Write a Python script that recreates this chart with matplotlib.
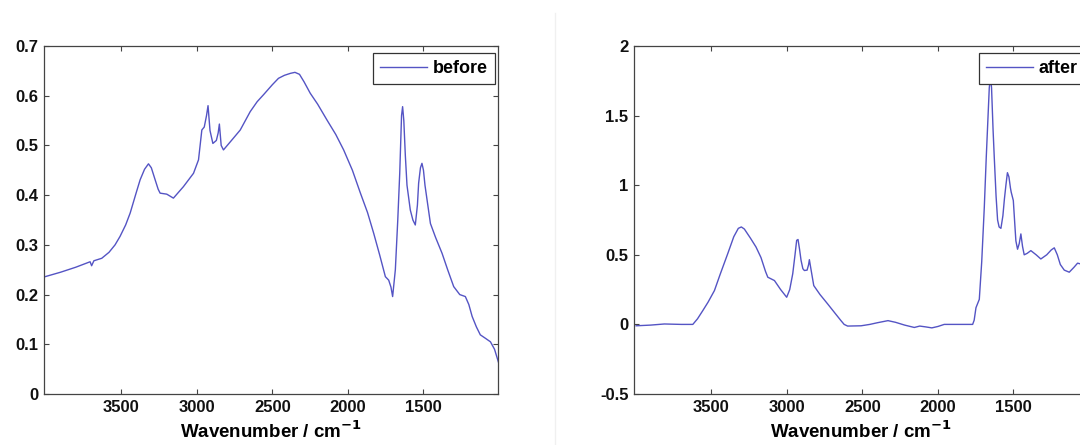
import numpy as np
import matplotlib.pyplot as plt
from matplotlib.lines import Line2D

plt.rcParams['font.family'] = ['Liberation Sans', 'DejaVu Sans']
plt.rcParams['font.weight'] = 'bold'

# FTIR spectra (wavenumber in cm-1, absorbance)
wn_before = [4003, 3900, 3800, 3705, 3695, 3680, 3628, 3580, 3540, 3507, 3470, 3440, 3400,
             3374, 3345, 3319, 3300, 3275, 3255, 3242, 3198, 3154, 3088, 3021, 2988, 2966,
             2950, 2935, 2925, 2912, 2893, 2870, 2858, 2850, 2838, 2823, 2770, 2712, 2646,
             2600, 2558, 2500, 2459, 2420, 2380, 2350, 2320, 2290, 2249, 2200, 2138, 2080,
             2028, 1970, 1917, 1870, 1829, 1790, 1752, 1730, 1715, 1704, 1686, 1670, 1657,
             1645, 1638, 1630, 1620, 1609, 1587, 1570, 1554, 1540, 1532, 1520, 1510, 1500,
             1490, 1476, 1454, 1420, 1377, 1340, 1300, 1260, 1223, 1200, 1178, 1150, 1124,
             1090, 1057, 1030, 1002]
ab_before = [0.236, 0.245, 0.255, 0.266, 0.258, 0.268, 0.273, 0.285, 0.300, 0.317, 0.340, 0.364, 0.405,
             0.431, 0.452, 0.463, 0.455, 0.431, 0.412, 0.404, 0.402, 0.394, 0.417, 0.444, 0.471, 0.531,
             0.537, 0.560, 0.580, 0.530, 0.504, 0.510, 0.525, 0.543, 0.500, 0.491, 0.510, 0.531, 0.568,
             0.588, 0.602, 0.622, 0.635, 0.641, 0.645, 0.647, 0.643, 0.628, 0.605, 0.583, 0.551, 0.522,
             0.491, 0.450, 0.404, 0.365, 0.323, 0.280, 0.236, 0.229, 0.215, 0.196, 0.250, 0.350, 0.444,
             0.560, 0.578, 0.550, 0.480, 0.420, 0.370, 0.350, 0.340, 0.380, 0.424, 0.455, 0.464, 0.450,
             0.420, 0.390, 0.343, 0.315, 0.283, 0.250, 0.216, 0.200, 0.196, 0.180, 0.156, 0.135, 0.119,
             0.112, 0.105, 0.090, 0.062]

wn_after = [3996, 3900, 3809, 3698, 3621, 3590, 3555, 3520, 3478, 3440, 3390, 3350, 3320,
            3300, 3280, 3240, 3203, 3170, 3140, 3125, 3081, 3040, 3000, 2980, 2960, 2945,
            2934, 2925, 2915, 2905, 2893, 2883, 2865, 2855, 2850, 2840, 2821, 2780, 2729,
            2680, 2641, 2620, 2597, 2508, 2450, 2400, 2330, 2280, 2220, 2156, 2120, 2080,
            2040, 2000, 1958, 1850, 1770, 1760, 1748, 1726, 1710, 1693, 1680, 1670, 1660,
            1652, 1645, 1635, 1627, 1615, 1605, 1595, 1583, 1570, 1560, 1550, 1540, 1530,
            1520, 1515, 1501, 1490, 1484, 1473, 1462, 1451, 1440, 1429, 1410, 1385, 1350,
            1319, 1280, 1250, 1230, 1210, 1190, 1164, 1131, 1100, 1076, 1040, 1005]
ab_after = [-0.010, -0.005, 0.003, 0.000, 0.000, 0.040, 0.099, 0.160, 0.243, 0.360, 0.508, 0.630, 0.690,
            0.700, 0.685, 0.620, 0.556, 0.480, 0.380, 0.339, 0.315, 0.250, 0.195, 0.250, 0.364, 0.500,
            0.604, 0.610, 0.540, 0.460, 0.400, 0.387, 0.390, 0.430, 0.465, 0.400, 0.279, 0.215, 0.147,
            0.080, 0.027, 0.000, -0.012, -0.010, 0.000, 0.012, 0.027, 0.015, -0.005, -0.022, -0.012, -0.018,
            -0.025, -0.015, 0.000, 0.000, 0.000, 0.030, 0.120, 0.180, 0.450, 0.840, 1.200, 1.450, 1.700,
            1.780, 1.700, 1.400, 1.200, 0.920, 0.750, 0.700, 0.690, 0.780, 0.900, 1.000, 1.090, 1.060,
            0.980, 0.950, 0.890, 0.700, 0.600, 0.540, 0.580, 0.650, 0.560, 0.500, 0.510, 0.530, 0.500,
            0.470, 0.500, 0.535, 0.550, 0.500, 0.430, 0.390, 0.375, 0.410, 0.440, 0.430, 0.400]

line_color = '#5454c4'
spine_color = '#444444'

fig = plt.figure(figsize=(10.8, 4.45), dpi=100)
W, H = 1080, 445

ax1 = fig.add_axes([44 / W, (H - 394) / H, 454 / W, 348 / H])
ax2 = fig.add_axes([634 / W, (H - 394) / H, 454 / W, 348 / H])

panels = [
    (ax1, wn_before, ab_before, 'before', (0, 0.7), np.arange(0, 0.71, 0.1), ['0', '0.1', '0.2', '0.3', '0.4', '0.5', '0.6', '0.7']),
    (ax2, wn_after, ab_after, 'after', (-0.5, 2), np.arange(-0.5, 2.01, 0.5), ['-0.5', '0', '0.5', '1', '1.5', '2']),
]

for ax, x, y, name, ylim, yticks, ylabels in panels:
    ax.plot(x, y, color=line_color, lw=1.0, label=name)
    ax.set_xlim(4010, 1007)
    ax.set_ylim(*ylim)
    ax.set_xticks([3500, 3000, 2500, 2000, 1500])
    ax.set_xticklabels(['3500', '3000', '2500', '2000', '1500'])
    ax.set_yticks(yticks)
    ax.set_yticklabels(ylabels)
    ax.tick_params(direction='in', length=3.5, width=0.8, top=True, right=True,
                   labelsize=12, colors=spine_color, labelcolor='#111111', pad=4)
    for s in ax.spines.values():
        s.set_color(spine_color)
        s.set_linewidth(0.9)
    ax.set_xlabel('Wavenumber / cm$^{\\mathbf{-1}}$', fontsize=13.5, fontweight='bold', labelpad=4)
    leg = ax.legend(loc='upper right', bbox_to_anchor=(0.9934, 0.98), borderaxespad=0,
                    fancybox=False, frameon=True, framealpha=1, prop={'weight': 'bold', 'size': 13},
                    handlelength=2.6, handletextpad=0.3, borderpad=0.4)
    leg.get_frame().set_edgecolor('#333333')
    leg.get_frame().set_linewidth(0.9)

# faint divider between the two panels
fig.add_artist(Line2D([555 / W, 555 / W], [0, (H - 13) / H], color='#f0f0f0', lw=1))

fig.savefig('out.png', dpi=100)
